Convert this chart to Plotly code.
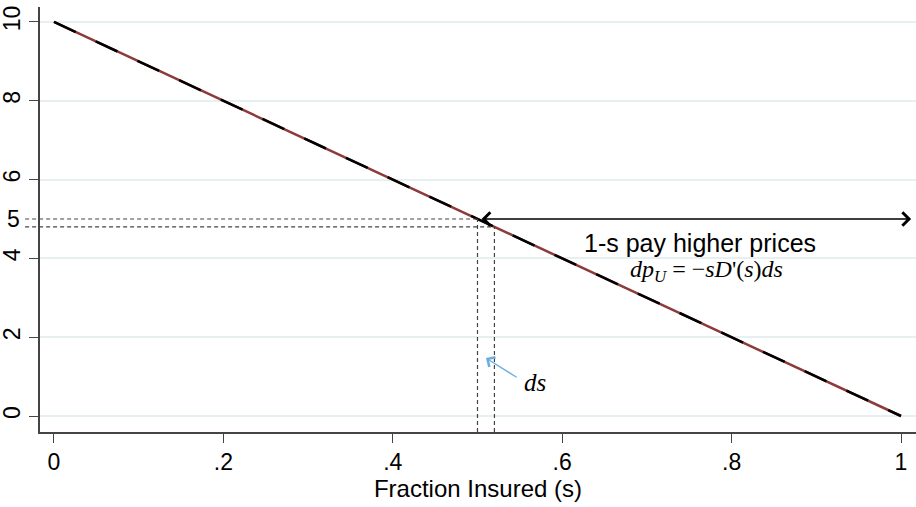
import plotly.graph_objects as go

# demand line D(s): price falls from 10 to 0 as the insured fraction goes 0 -> 1
s_vals = [0, 1]
price_vals = [10, 0]

# the two marked points on the line (s, s+ds)
s_marked = [0.5, 0.52]
p_marked = [5, 4.8]

x_ticks = [0, 0.2, 0.4, 0.6, 0.8, 1]
x_ticktext = ["0", ".2", ".4", ".6", ".8", "1"]
y_ticks = [0, 2, 4, 6, 8, 10]

xmin, xmax = -0.0165, 1.0177
ymin, ymax = -0.406, 10.38

sans = "Liberation Sans, Arial, sans-serif"
serif = "Liberation Serif, Times New Roman, serif"

fig = go.Figure()
fig.add_trace(go.Scatter(x=s_vals, y=price_vals, mode="lines",
                         line=dict(color="#8c3a3a", width=2.5), hoverinfo="skip"))
fig.add_trace(go.Scatter(x=s_vals, y=price_vals, mode="lines",
                         line=dict(color="black", width=2.5, dash="24px,22px"),
                         hoverinfo="skip"))

dash_line = dict(color="#444444", width=1.2, dash="4px,3px")
for s, p in zip(s_marked, p_marked):
    # horizontal guide, runs a little past the y axis
    fig.add_shape(type="line", xref="paper", yref="y",
                  x0=-0.017, x1=(s - xmin) / (xmax - xmin), y0=p, y1=p,
                  line=dash_line)
    # vertical guide down to the x axis
    fig.add_shape(type="line", xref="x", yref="y",
                  x0=s, x1=s, y0=ymin, y1=p, line=dash_line)

# "5" label next to the guides (horizontal, unlike the other y labels)
fig.add_annotation(x=-0.0297, xref="paper", y=p_marked[0], yref="y",
                   text="5", showarrow=False, xanchor="center",
                   font=dict(family=sans, size=23, color="black"))

# double arrow for the 1-s uninsured
fig.add_annotation(x=1.012, y=p_marked[0], ax=s_marked[0] + 0.003, ay=p_marked[0],
                   xref="x", yref="y", axref="x", ayref="y", text="",
                   showarrow=True, arrowhead=4, startarrowhead=4,
                   arrowside="end+start", arrowsize=2, startarrowsize=2,
                   arrowwidth=1.3, arrowcolor="black")

fig.add_annotation(x=0.763, y=4.39, text="1-s pay higher prices", showarrow=False,
                   font=dict(family=sans, size=25, color="black"))
fig.add_annotation(x=0.770, y=3.68,
                   text="<i>dp</i><sub><i>U</i></sub> = \u2212<i>sD</i>'(<i>s</i>)<i>ds</i>",
                   showarrow=False, font=dict(family=serif, size=24, color="black"))

# ds label with blue pointer
fig.add_annotation(x=0.568, y=0.84, text="<i>ds</i>", showarrow=False,
                   font=dict(family=serif, size=25, color="black"))
fig.add_annotation(x=0.510, y=1.47, ax=0.548, ay=0.96,
                   xref="x", yref="y", axref="x", ayref="y", text="",
                   showarrow=True, arrowhead=4, arrowsize=1.6, arrowwidth=1.4,
                   arrowcolor="#6aaee0")

fig.update_layout(
    width=916, height=507,
    margin=dict(l=40, r=0, t=7, b=75),
    plot_bgcolor="white", paper_bgcolor="white",
    showlegend=False,
    font=dict(family=sans, size=23, color="black"),
)
fig.update_xaxes(range=[xmin, xmax], tickvals=x_ticks, ticktext=x_ticktext,
                 showgrid=False, zeroline=False, showline=True,
                 linecolor="#444444", linewidth=1.5, automargin=False,
                 ticks="outside", ticklen=9, tickcolor="#444444",
                 tickfont=dict(size=23),
                 title=dict(text="Fraction Insured (s)", font=dict(size=24), standoff=4))
fig.update_yaxes(range=[ymin, ymax], tickvals=y_ticks, tickangle=-90,
                 showgrid=True, gridcolor="#e6f0f1", gridwidth=1.5,
                 zeroline=False, showline=True, automargin=False,
                 linecolor="#444444", linewidth=1.5,
                 ticks="outside", ticklen=9, tickcolor="#444444",
                 tickfont=dict(size=23), ticklabelstandoff=0)

# drop the browser's default body margin so the figure sits at the page corner
fig.write_html("out.html", config={"displayModeBar": False},
               post_script="document.body.style.margin='0';")
